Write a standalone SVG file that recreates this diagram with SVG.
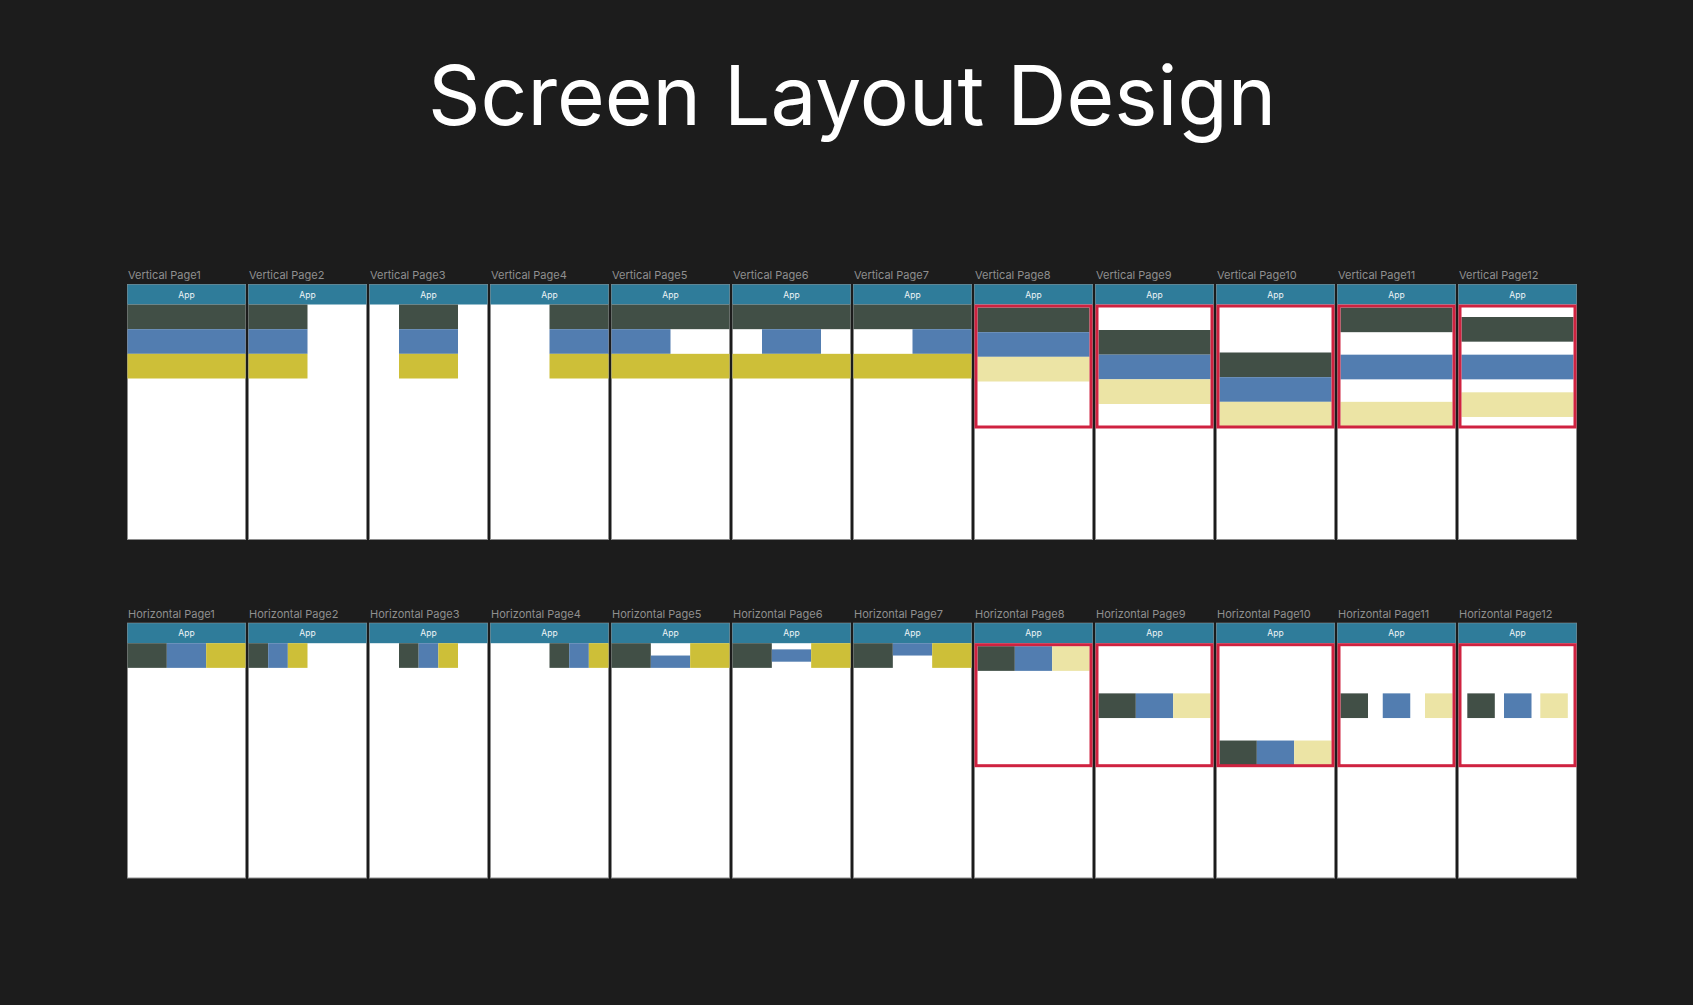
<svg xmlns="http://www.w3.org/2000/svg" width="1693" height="1005" viewBox="0 0 1693 1005">
  <style>
    .title { font-family: Inter, "Noto Sans", "Liberation Sans", sans-serif; font-size: 82px; fill: #ffffff; }
    .lbl { font-family: Inter, "Noto Sans", "Liberation Sans", sans-serif; font-size: 11px; fill: #8f8f8f; }
    .app { font-family: Inter, "Noto Sans", "Liberation Sans", sans-serif; font-size: 8.5px; fill: #eef4f7; text-anchor: middle; }
    .frame { fill: #ffffff; stroke: #8e8e8e; stroke-width: 1; }
    .hdr { fill: #2f7c9a; }
    .d { fill: #414f46; }
    .b { fill: #527db0; }
    .y { fill: #cdbf38; }
    .ly { fill: #ece4a5; }
    .box { fill: none; stroke: #cf2240; stroke-width: 3; }
  </style>

  <rect x="0" y="0" width="1693" height="1005" fill="#1c1c1c"/>

  <text class="title" x="428" y="125">Screen Layout Design</text>

  <!-- Vertical stacking layouts -->
  <g id="vertical-pages">
    <g id="v1" transform="translate(127,284)">
      <text class="lbl" x="1" y="-4.7">Vertical Page1</text>
      <rect class="frame" x="0.5" y="0.5" width="118" height="255"/>
      <rect class="hdr" x="0.5" y="0.5" width="118" height="20"/>
      <text class="app" x="59.5" y="13.5">App</text>
      <rect class="d" x="0.5" y="20.5" width="118" height="24.67"/>
      <rect class="b" x="0.5" y="45.17" width="118" height="24.67"/>
      <rect class="y" x="0.5" y="69.83" width="118" height="24.67"/>
    </g>
    <g id="v2" transform="translate(248,284)">
      <text class="lbl" x="1" y="-4.7">Vertical Page2</text>
      <rect class="frame" x="0.5" y="0.5" width="118" height="255"/>
      <rect class="hdr" x="0.5" y="0.5" width="118" height="20"/>
      <text class="app" x="59.5" y="13.5">App</text>
      <rect class="d" x="0.5" y="20.5" width="59" height="24.67"/>
      <rect class="b" x="0.5" y="45.17" width="59" height="24.67"/>
      <rect class="y" x="0.5" y="69.83" width="59" height="24.67"/>
    </g>
    <g id="v3" transform="translate(369,284)">
      <text class="lbl" x="1" y="-4.7">Vertical Page3</text>
      <rect class="frame" x="0.5" y="0.5" width="118" height="255"/>
      <rect class="hdr" x="0.5" y="0.5" width="118" height="20"/>
      <text class="app" x="59.5" y="13.5">App</text>
      <rect class="d" x="30" y="20.5" width="59" height="24.67"/>
      <rect class="b" x="30" y="45.17" width="59" height="24.67"/>
      <rect class="y" x="30" y="69.83" width="59" height="24.67"/>
    </g>
    <g id="v4" transform="translate(490,284)">
      <text class="lbl" x="1" y="-4.7">Vertical Page4</text>
      <rect class="frame" x="0.5" y="0.5" width="118" height="255"/>
      <rect class="hdr" x="0.5" y="0.5" width="118" height="20"/>
      <text class="app" x="59.5" y="13.5">App</text>
      <rect class="d" x="59.5" y="20.5" width="59" height="24.67"/>
      <rect class="b" x="59.5" y="45.17" width="59" height="24.67"/>
      <rect class="y" x="59.5" y="69.83" width="59" height="24.67"/>
    </g>
    <g id="v5" transform="translate(611,284)">
      <text class="lbl" x="1" y="-4.7">Vertical Page5</text>
      <rect class="frame" x="0.5" y="0.5" width="118" height="255"/>
      <rect class="hdr" x="0.5" y="0.5" width="118" height="20"/>
      <text class="app" x="59.5" y="13.5">App</text>
      <rect class="d" x="0.5" y="20.5" width="118" height="24.67"/>
      <rect class="b" x="0.5" y="45.17" width="59" height="24.67"/>
      <rect class="y" x="0.5" y="69.83" width="118" height="24.67"/>
    </g>
    <g id="v6" transform="translate(732,284)">
      <text class="lbl" x="1" y="-4.7">Vertical Page6</text>
      <rect class="frame" x="0.5" y="0.5" width="118" height="255"/>
      <rect class="hdr" x="0.5" y="0.5" width="118" height="20"/>
      <text class="app" x="59.5" y="13.5">App</text>
      <rect class="d" x="0.5" y="20.5" width="118" height="24.67"/>
      <rect class="b" x="30" y="45.17" width="59" height="24.67"/>
      <rect class="y" x="0.5" y="69.83" width="118" height="24.67"/>
    </g>
    <g id="v7" transform="translate(853,284)">
      <text class="lbl" x="1" y="-4.7">Vertical Page7</text>
      <rect class="frame" x="0.5" y="0.5" width="118" height="255"/>
      <rect class="hdr" x="0.5" y="0.5" width="118" height="20"/>
      <text class="app" x="59.5" y="13.5">App</text>
      <rect class="d" x="0.5" y="20.5" width="118" height="24.67"/>
      <rect class="b" x="59.5" y="45.17" width="59" height="24.67"/>
      <rect class="y" x="0.5" y="69.83" width="118" height="24.67"/>
    </g>
    <g id="v8" transform="translate(974,284)">
      <text class="lbl" x="1" y="-4.7">Vertical Page8</text>
      <rect class="frame" x="0.5" y="0.5" width="118" height="255"/>
      <rect class="hdr" x="0.5" y="0.5" width="118" height="20"/>
      <text class="app" x="59.5" y="13.5">App</text>
      <rect class="d" x="3.5" y="23.5" width="112" height="24.67"/>
      <rect class="b" x="3.5" y="48.17" width="112" height="24.67"/>
      <rect class="ly" x="3.5" y="72.83" width="112" height="24.67"/>
      <rect class="box" x="2" y="22" width="115" height="121"/>
    </g>
    <g id="v9" transform="translate(1095,284)">
      <text class="lbl" x="1" y="-4.7">Vertical Page9</text>
      <rect class="frame" x="0.5" y="0.5" width="118" height="255"/>
      <rect class="hdr" x="0.5" y="0.5" width="118" height="20"/>
      <text class="app" x="59.5" y="13.5">App</text>
      <rect class="d" x="3.5" y="46" width="112" height="24.67"/>
      <rect class="b" x="3.5" y="70.67" width="112" height="24.67"/>
      <rect class="ly" x="3.5" y="95.33" width="112" height="24.67"/>
      <rect class="box" x="2" y="22" width="115" height="121"/>
    </g>
    <g id="v10" transform="translate(1216,284)">
      <text class="lbl" x="1" y="-4.7">Vertical Page10</text>
      <rect class="frame" x="0.5" y="0.5" width="118" height="255"/>
      <rect class="hdr" x="0.5" y="0.5" width="118" height="20"/>
      <text class="app" x="59.5" y="13.5">App</text>
      <rect class="d" x="3.5" y="68.5" width="112" height="24.67"/>
      <rect class="b" x="3.5" y="93.17" width="112" height="24.67"/>
      <rect class="ly" x="3.5" y="117.83" width="112" height="24.67"/>
      <rect class="box" x="2" y="22" width="115" height="121"/>
    </g>
    <g id="v11" transform="translate(1337,284)">
      <text class="lbl" x="1" y="-4.7">Vertical Page11</text>
      <rect class="frame" x="0.5" y="0.5" width="118" height="255"/>
      <rect class="hdr" x="0.5" y="0.5" width="118" height="20"/>
      <text class="app" x="59.5" y="13.5">App</text>
      <rect class="d" x="3.5" y="23.5" width="112" height="24.67"/>
      <rect class="b" x="3.5" y="70.67" width="112" height="24.67"/>
      <rect class="ly" x="3.5" y="117.83" width="112" height="24.67"/>
      <rect class="box" x="2" y="22" width="115" height="121"/>
    </g>
    <g id="v12" transform="translate(1458,284)">
      <text class="lbl" x="1" y="-4.7">Vertical Page12</text>
      <rect class="frame" x="0.5" y="0.5" width="118" height="255"/>
      <rect class="hdr" x="0.5" y="0.5" width="118" height="20"/>
      <text class="app" x="59.5" y="13.5">App</text>
      <rect class="d" x="3.5" y="33" width="112" height="24.67"/>
      <rect class="b" x="3.5" y="70.67" width="112" height="24.67"/>
      <rect class="ly" x="3.5" y="108.3" width="112" height="24.67"/>
      <rect class="box" x="2" y="22" width="115" height="121"/>
    </g>
  </g>

  <!-- Horizontal row layouts -->
  <g id="horizontal-pages">
    <g id="h1" transform="translate(127,622.7)">
      <text class="lbl" x="1" y="-5">Horizontal Page1</text>
      <rect class="frame" x="0.5" y="0.5" width="118" height="254.8"/>
      <rect class="hdr" x="0.5" y="0.5" width="118" height="20"/>
      <text class="app" x="59.5" y="13.5">App</text>
      <rect class="d" x="0.5" y="20.5" width="39.33" height="24.67"/>
      <rect class="b" x="39.83" y="20.5" width="39.33" height="24.67"/>
      <rect class="y" x="79.17" y="20.5" width="39.33" height="24.67"/>
    </g>
    <g id="h2" transform="translate(248,622.7)">
      <text class="lbl" x="1" y="-5">Horizontal Page2</text>
      <rect class="frame" x="0.5" y="0.5" width="118" height="254.8"/>
      <rect class="hdr" x="0.5" y="0.5" width="118" height="20"/>
      <text class="app" x="59.5" y="13.5">App</text>
      <rect class="d" x="0.5" y="20.5" width="19.67" height="24.67"/>
      <rect class="b" x="20.17" y="20.5" width="19.67" height="24.67"/>
      <rect class="y" x="39.83" y="20.5" width="19.67" height="24.67"/>
    </g>
    <g id="h3" transform="translate(369,622.7)">
      <text class="lbl" x="1" y="-5">Horizontal Page3</text>
      <rect class="frame" x="0.5" y="0.5" width="118" height="254.8"/>
      <rect class="hdr" x="0.5" y="0.5" width="118" height="20"/>
      <text class="app" x="59.5" y="13.5">App</text>
      <rect class="d" x="30" y="20.5" width="19.67" height="24.67"/>
      <rect class="b" x="49.67" y="20.5" width="19.67" height="24.67"/>
      <rect class="y" x="69.33" y="20.5" width="19.67" height="24.67"/>
    </g>
    <g id="h4" transform="translate(490,622.7)">
      <text class="lbl" x="1" y="-5">Horizontal Page4</text>
      <rect class="frame" x="0.5" y="0.5" width="118" height="254.8"/>
      <rect class="hdr" x="0.5" y="0.5" width="118" height="20"/>
      <text class="app" x="59.5" y="13.5">App</text>
      <rect class="d" x="59.5" y="20.5" width="19.67" height="24.67"/>
      <rect class="b" x="79.17" y="20.5" width="19.67" height="24.67"/>
      <rect class="y" x="98.83" y="20.5" width="19.67" height="24.67"/>
    </g>
    <g id="h5" transform="translate(611,622.7)">
      <text class="lbl" x="1" y="-5">Horizontal Page5</text>
      <rect class="frame" x="0.5" y="0.5" width="118" height="254.8"/>
      <rect class="hdr" x="0.5" y="0.5" width="118" height="20"/>
      <text class="app" x="59.5" y="13.5">App</text>
      <rect class="d" x="0.5" y="20.5" width="39.33" height="24.67"/>
      <rect class="b" x="39.83" y="32.83" width="39.33" height="12.33"/>
      <rect class="y" x="79.17" y="20.5" width="39.33" height="24.67"/>
    </g>
    <g id="h6" transform="translate(732,622.7)">
      <text class="lbl" x="1" y="-5">Horizontal Page6</text>
      <rect class="frame" x="0.5" y="0.5" width="118" height="254.8"/>
      <rect class="hdr" x="0.5" y="0.5" width="118" height="20"/>
      <text class="app" x="59.5" y="13.5">App</text>
      <rect class="d" x="0.5" y="20.5" width="39.33" height="24.67"/>
      <rect class="b" x="39.83" y="26.67" width="39.33" height="12.33"/>
      <rect class="y" x="79.17" y="20.5" width="39.33" height="24.67"/>
    </g>
    <g id="h7" transform="translate(853,622.7)">
      <text class="lbl" x="1" y="-5">Horizontal Page7</text>
      <rect class="frame" x="0.5" y="0.5" width="118" height="254.8"/>
      <rect class="hdr" x="0.5" y="0.5" width="118" height="20"/>
      <text class="app" x="59.5" y="13.5">App</text>
      <rect class="d" x="0.5" y="20.5" width="39.33" height="24.67"/>
      <rect class="b" x="39.83" y="20.5" width="39.33" height="12.33"/>
      <rect class="y" x="79.17" y="20.5" width="39.33" height="24.67"/>
    </g>
    <g id="h8" transform="translate(974,622.7)">
      <text class="lbl" x="1" y="-5">Horizontal Page8</text>
      <rect class="frame" x="0.5" y="0.5" width="118" height="254.8"/>
      <rect class="hdr" x="0.5" y="0.5" width="118" height="20"/>
      <text class="app" x="59.5" y="13.5">App</text>
      <rect class="d" x="3.5" y="23.5" width="37.33" height="24.67"/>
      <rect class="b" x="40.83" y="23.5" width="37.33" height="24.67"/>
      <rect class="ly" x="78.17" y="23.5" width="37.33" height="24.67"/>
      <rect class="box" x="2" y="22" width="115" height="121"/>
    </g>
    <g id="h9" transform="translate(1095,622.7)">
      <text class="lbl" x="1" y="-5">Horizontal Page9</text>
      <rect class="frame" x="0.5" y="0.5" width="118" height="254.8"/>
      <rect class="hdr" x="0.5" y="0.5" width="118" height="20"/>
      <text class="app" x="59.5" y="13.5">App</text>
      <rect class="d" x="3.5" y="70.67" width="37.33" height="24.67"/>
      <rect class="b" x="40.83" y="70.67" width="37.33" height="24.67"/>
      <rect class="ly" x="78.17" y="70.67" width="37.33" height="24.67"/>
      <rect class="box" x="2" y="22" width="115" height="121"/>
    </g>
    <g id="h10" transform="translate(1216,622.7)">
      <text class="lbl" x="1" y="-5">Horizontal Page10</text>
      <rect class="frame" x="0.5" y="0.5" width="118" height="254.8"/>
      <rect class="hdr" x="0.5" y="0.5" width="118" height="20"/>
      <text class="app" x="59.5" y="13.5">App</text>
      <rect class="d" x="3.5" y="117.83" width="37.33" height="24.67"/>
      <rect class="b" x="40.83" y="117.83" width="37.33" height="24.67"/>
      <rect class="ly" x="78.17" y="117.83" width="37.33" height="24.67"/>
      <rect class="box" x="2" y="22" width="115" height="121"/>
    </g>
    <g id="h11" transform="translate(1337,622.7)">
      <text class="lbl" x="1" y="-5">Horizontal Page11</text>
      <rect class="frame" x="0.5" y="0.5" width="118" height="254.8"/>
      <rect class="hdr" x="0.5" y="0.5" width="118" height="20"/>
      <text class="app" x="59.5" y="13.5">App</text>
      <rect class="d" x="3.5" y="70.67" width="27.5" height="24.67"/>
      <rect class="b" x="45.75" y="70.67" width="27.5" height="24.67"/>
      <rect class="ly" x="88" y="70.67" width="27.5" height="24.67"/>
      <rect class="box" x="2" y="22" width="115" height="121"/>
    </g>
    <g id="h12" transform="translate(1458,622.7)">
      <text class="lbl" x="1" y="-5">Horizontal Page12</text>
      <rect class="frame" x="0.5" y="0.5" width="118" height="254.8"/>
      <rect class="hdr" x="0.5" y="0.5" width="118" height="20"/>
      <text class="app" x="59.5" y="13.5">App</text>
      <rect class="d" x="9.3" y="70.67" width="27.5" height="24.67"/>
      <rect class="b" x="46" y="70.67" width="27.5" height="24.67"/>
      <rect class="ly" x="82.3" y="70.67" width="27.5" height="24.67"/>
      <rect class="box" x="2" y="22" width="115" height="121"/>
    </g>
  </g>
</svg>
